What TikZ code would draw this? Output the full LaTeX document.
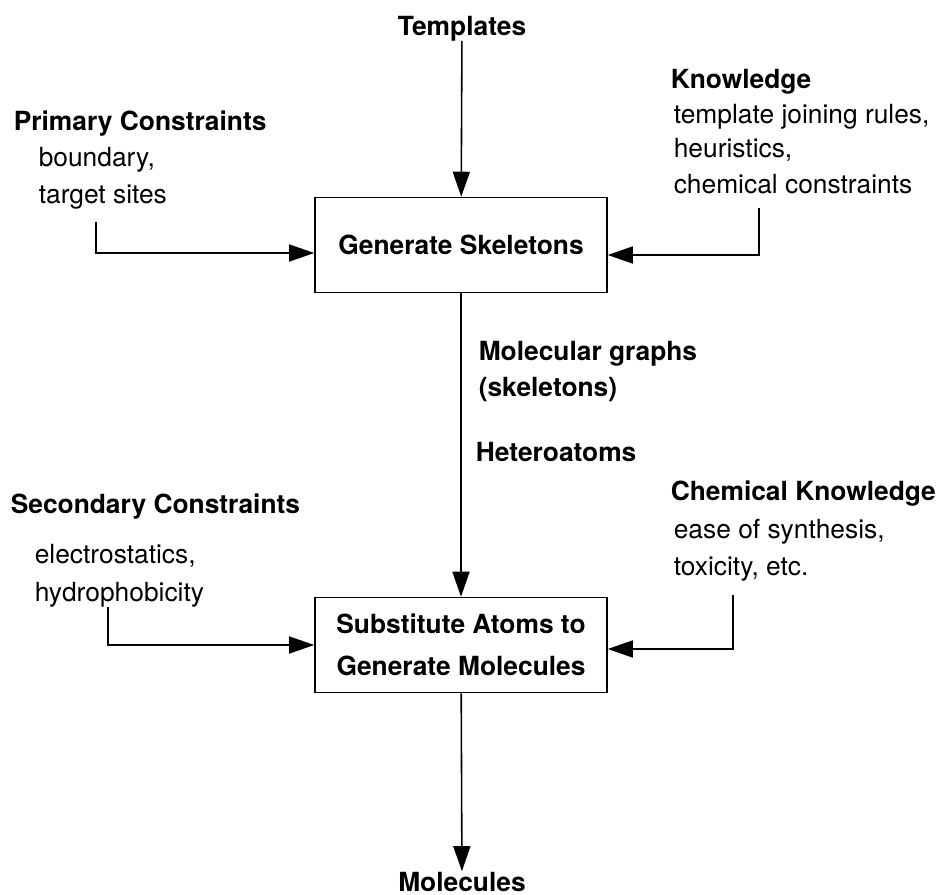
\documentclass[tikz,border=0pt]{standalone}
\usepackage{fontspec}
\setmainfont{TeX Gyre Heros}
\usetikzlibrary{arrows.meta}

\begin{document}
\begin{tikzpicture}[x=0.02cm, y=-0.02cm, line width=0.9pt,
  >={Triangle[length=0.5cm,width=0.34cm]},
  box/.style={draw, minimum width=5.84cm, minimum height=1.9cm, align=center, font=\fontsize{15}{24}\selectfont\bfseries},
  ttl/.style={inner sep=0.1cm, text height=8pt, text depth=0pt, font=\fontsize{15}{18}\selectfont\bfseries},
  head/.style={anchor=west, inner sep=0pt, text height=8pt, text depth=0pt, font=\fontsize{15}{18}\selectfont\bfseries},
  lbl/.style={anchor=west, inner sep=0pt, text height=8pt, text depth=0pt, font=\fontsize{15}{18}\selectfont}]

\useasboundingbox (0,0) rectangle (937,895);

% boxes
\node[box] (gen) at (461,245) {Generate Skeletons};
\node[box] (sub) at (461,645) {Substitute Atoms to\\Generate Molecules};

% in and out
\node[ttl] (tmpl) at (462,28) {Templates};
\node[ttl] (mol) at (462,884) {Molecules};
\draw[->] (tmpl) -- (gen);
\draw[->] (gen) -- (sub);
\draw[->] (sub) -- (mol);

% between the boxes
\node[head] (mg1) at (478,353) {Molecular graphs};
\node[head] (mg2) at (478,389) {(skeletons)};
\node[head] (het) at (475,454) {Heteroatoms};

% primary constraints
\node[head] (pc) at (13,123) {Primary Constraints};
\node[lbl] (pc1) at (38,159) {boundary,};
\node[lbl] (pc2) at (38,196) {target sites};
\coordinate (pcin) at (96,222);
\draw[->] (pcin) |- ([yshift=-0.16cm]gen.west);

% knowledge
\node[head] (kn) at (670,81) {Knowledge};
\node[lbl] (kn1) at (673,116) {template joining rules,};
\node[lbl] (kn2) at (673,150) {heuristics,};
\node[lbl] (kn3) at (673,186) {chemical constraints};
\coordinate (knin) at (759,208);
\draw[->] (knin) |- ([yshift=-0.2cm]gen.east);

% secondary constraints
\node[head] (sc) at (10,506) {Secondary Constraints};
\node[lbl] (sc1) at (34,556) {electrostatics,};
\node[lbl] (sc2) at (34,594) {hydrophobicity};
\coordinate (scin) at (108,607);
\draw[->] (scin) |- ([yshift=0cm]sub.west);

% chemical knowledge
\node[head] (ck) at (670,493) {Chemical Knowledge};
\node[lbl] (ck1) at (673,531) {ease of synthesis,};
\node[lbl] (ck2) at (673,568) {toxicity, etc.};
\coordinate (ckin) at (733,595);
\draw[->] (ckin) |- ([yshift=-0.08cm]sub.east);

\end{tikzpicture}
\end{document}
